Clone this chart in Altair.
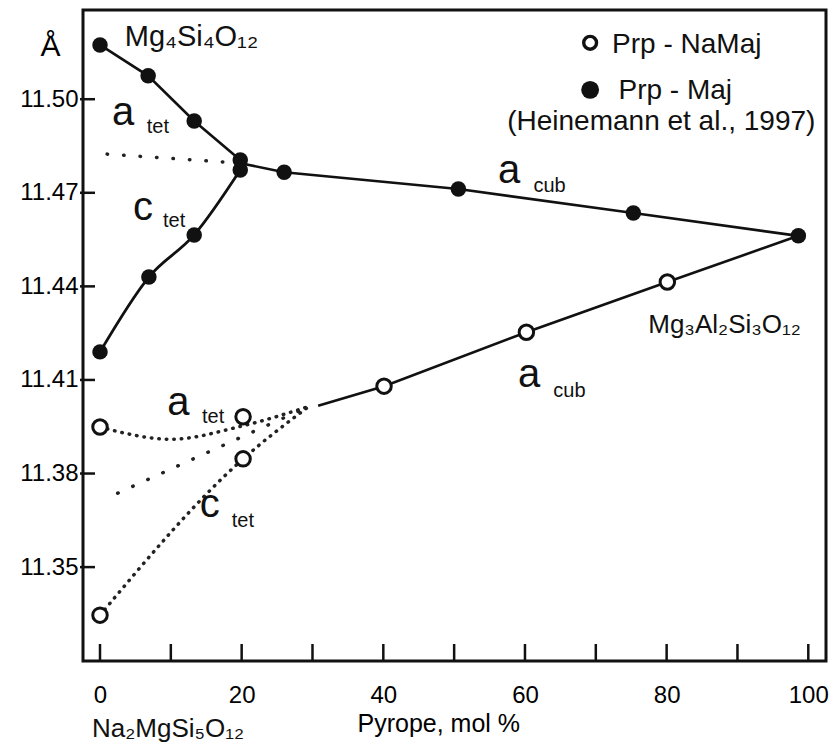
import altair as alt
import pandas as pd

# ---------------- data ----------------
x_tick_values = [0, 10, 20, 30, 40, 50, 60, 70, 80, 90, 100]
y_tick_values = [11.35, 11.38, 11.41, 11.44, 11.47, 11.50]

# Prp - Maj (filled symbols, Heinemann et al., 1997)
maj_x = [0, 6.8, 13.3, 19.8, 19.8, 26.0, 50.6, 75.3, 98.6, 13.3, 6.9, 0]
maj_y = [11.5174, 11.5075, 11.4930, 11.4805, 11.4773, 11.4766, 11.4712,
         11.4635, 11.4562, 11.4565, 11.4430, 11.4190]

# Prp - NaMaj (open symbols)
namaj_x = [0, 20.2, 20.2, 0, 40.1, 60.2, 80.1]
namaj_y = [11.3949, 11.3982, 11.3847, 11.3346, 11.4080, 11.4253, 11.4414]

# solid lines (straight)
atet_up_x = [0, 6.8, 13.3, 19.8]
atet_up_y = [11.5174, 11.5075, 11.4930, 11.4805]
acub_up_x = [19.8, 26.0, 50.6, 75.3, 98.6]
acub_up_y = [11.4795, 11.4766, 11.4712, 11.4635, 11.4562]
acub_low_x = [30.8, 40.1, 60.2, 80.1, 98.6]
acub_low_y = [11.4017, 11.4080, 11.4253, 11.4414, 11.4562]
# solid line (curved)
ctet_up_x = [0, 6.9, 13.3, 19.8]
ctet_up_y = [11.4190, 11.4430, 11.4565, 11.4773]

# dotted lines (sparse)
dot_up_x = [1.0, 19.8]
dot_up_y = [11.4824, 11.4795]
dot_mid_x = [2.5, 29.5]
dot_mid_y = [11.3737, 11.4015]
# dotted lines (dense)
dot_atet_x = [0, 10, 20, 29.5]
dot_atet_y = [11.3949, 11.3910, 11.3952, 11.4015]
dot_ctet_x = [0, 20.2, 29.5]
dot_ctet_y = [11.3346, 11.3847, 11.4015]

# annotations
big_text = ["a", "c", "a", "a", "a", "c"]
big_x = [1.7, 4.66, 56.2, 59.0, 9.5, 14.1]
big_y = [11.4918, 11.4613, 11.4732, 11.4077, 11.3988, 11.3660]
sub_text = ["tet", "tet", "cub", "cub", "tet", "tet"]
sub_x = [6.6, 8.9, 61.2, 64.0, 14.4, 18.6]
sub_y = [11.4892, 11.4591, 11.4702, 11.4046, 11.3962, 11.3628]
formula_text = ["Mg\u2084Si\u2084O\u2081\u2082", "Mg\u2083Al\u2082Si\u2083O\u2081\u2082"]
formula_x = [3.5, 77.4]
formula_y = [11.5171, 11.4250]
formula_size = [29, 26]

legend_open_x = [69.2]
legend_open_y = [11.5181]
legend_fill_x = [69.2]
legend_fill_y = [11.5030]
legend_text = ["Prp - NaMaj", "Prp - Maj"]
legend_text_x = [72.3, 73.2]
legend_text_y = [11.5148, 11.5001]
legend_ref = ["(Heinemann et al., 1997)"]
legend_ref_x = [101.0]
legend_ref_y = [11.4902]

# ---------------- chart ----------------
W, H = 743, 651
FONT = "Liberation Sans"
xs = alt.Scale(domain=[-2.4, 102.5], nice=False, zero=False)
ys = alt.Scale(domain=[11.3199, 11.5286], nice=False, zero=False)

x_axis = alt.Axis(values=x_tick_values, labelExpr="datum.value % 20 == 0 ? datum.label : ''",
                  ticks=False, domain=False, grid=False, labelPadding=22, labelFontSize=24,
                  labelFont=FONT, labelColor="black", labelFlush=False,
                  title="Pyrope, mol %", titleX=274, titleY=70, titleAlign="left",
                  titleBaseline="alphabetic", titleFontSize=25, titleFont=FONT,
                  titleFontWeight="normal", titleColor="black")
y_axis = alt.Axis(values=y_tick_values, format=".2f", ticks=False, domain=False, grid=False,
                  labelPadding=5, labelFontSize=24, labelFont=FONT, labelColor="black",
                  title="Å", titleAngle=0, titleX=-33, titleY=45, titleAlign="center",
                  titleBaseline="alphabetic", titleFontSize=30, titleFont=FONT,
                  titleFontWeight="normal", titleColor="black")


def X(f="x"):
    return alt.X(f"{f}:Q", scale=xs, axis=x_axis)


def Y(f="y"):
    return alt.Y(f"{f}:Q", scale=ys, axis=y_axis)


def seg(name, xv, yv):
    return pd.DataFrame({"seg": name, "x": xv, "y": yv, "o": list(range(len(xv)))})


solid_df = pd.concat([seg("atet_up", atet_up_x, atet_up_y),
                      seg("acub_up", acub_up_x, acub_up_y),
                      seg("acub_low", acub_low_x, acub_low_y)])
curved_df = seg("ctet_up", ctet_up_x, ctet_up_y)
sparse_df = pd.concat([seg("up", dot_up_x, dot_up_y), seg("mid", dot_mid_x, dot_mid_y)])
dense_df = pd.concat([seg("atet", dot_atet_x, dot_atet_y), seg("ctet", dot_ctet_x, dot_ctet_y)])

solid = alt.Chart(solid_df).mark_line(color="#111", strokeWidth=2.6).encode(
    x=X(), y=Y(), detail="seg:N", order="o:Q")
curved = alt.Chart(curved_df).mark_line(color="#111", strokeWidth=2.8, interpolate="monotone").encode(
    x=X(), y=Y(), order="o:Q")
sparse = alt.Chart(sparse_df).mark_line(color="#222", strokeWidth=3.5, strokeDash=[0.5, 16],
                                        strokeCap="round").encode(x=X(), y=Y(), detail="seg:N", order="o:Q")
dense = alt.Chart(dense_df).mark_line(color="#222", strokeWidth=3.5, strokeDash=[0.5, 7],
                                      strokeCap="round", interpolate="monotone").encode(
    x=X(), y=Y(), detail="seg:N", order="o:Q")

maj = alt.Chart(pd.DataFrame({"x": maj_x, "y": maj_y})).mark_point(
    shape="circle", filled=True, color="#111", size=240, opacity=1).encode(x=X(), y=Y())
namaj = alt.Chart(pd.DataFrame({"x": namaj_x, "y": namaj_y})).mark_point(
    shape="circle", filled=False, fill="white", fillOpacity=1, stroke="#111", strokeWidth=3,
    size=210, opacity=1).encode(x=X(), y=Y())

xt = alt.Chart(pd.DataFrame({"v": x_tick_values})).mark_rule(color="#111", strokeWidth=2.5).encode(
    x=X("v"), y=alt.value(H - 17), y2=alt.value(H))
yt = alt.Chart(pd.DataFrame({"v": y_tick_values})).mark_rule(color="#111", strokeWidth=2.5).encode(
    y=Y("v"), x=alt.value(-3), x2=alt.value(12))

big = alt.Chart(pd.DataFrame({"t": big_text, "x": big_x, "y": big_y})).mark_text(
    font=FONT, fontSize=40, align="left", baseline="alphabetic", color="#111").encode(
    x=X(), y=Y(), text="t:N")
sub = alt.Chart(pd.DataFrame({"t": sub_text, "x": sub_x, "y": sub_y})).mark_text(
    font=FONT, fontSize=20, align="left", baseline="alphabetic", color="#111").encode(
    x=X(), y=Y(), text="t:N")
formula = alt.Chart(pd.DataFrame({"t": formula_text, "x": formula_x, "y": formula_y,
                                  "s": formula_size})).mark_text(
    font=FONT, align="left", baseline="alphabetic", color="#111").encode(
    x=X(), y=Y(), text="t:N", size=alt.Size("s:Q", scale=None, legend=None))

leg_open = alt.Chart(pd.DataFrame({"x": legend_open_x, "y": legend_open_y})).mark_point(
    shape="circle", filled=False, fill="white", fillOpacity=1, stroke="#111", strokeWidth=3.4,
    size=165, opacity=1).encode(x=X(), y=Y())
leg_fill = alt.Chart(pd.DataFrame({"x": legend_fill_x, "y": legend_fill_y})).mark_point(
    shape="circle", filled=True, color="#111", size=320, opacity=1).encode(x=X(), y=Y())
leg_text = alt.Chart(pd.DataFrame({"t": legend_text, "x": legend_text_x, "y": legend_text_y})).mark_text(
    font=FONT, fontSize=28, align="left", baseline="alphabetic", color="#111").encode(
    x=X(), y=Y(), text="t:N")
leg_ref = alt.Chart(pd.DataFrame({"t": legend_ref, "x": legend_ref_x, "y": legend_ref_y})).mark_text(
    font=FONT, fontSize=28, align="right", baseline="alphabetic", color="#111").encode(
    x=X(), y=Y(), text="t:N")

na_label = alt.Chart(pd.DataFrame({"t": ["Na\u2082MgSi\u2085O\u2081\u2082"]})).mark_text(
    font=FONT, fontSize=26, align="left", baseline="alphabetic", color="#111").encode(
    x=alt.value(9), y=alt.value(727), text="t:N")

chart = alt.layer(
    xt, yt, solid, curved, sparse, dense, maj, namaj, big, sub, formula,
    leg_open, leg_fill, leg_text, leg_ref, na_label
).properties(
    width=W, height=H,
    autosize=alt.AutoSizeParams(type="none"),
    padding={"left": 83, "top": 10, "right": 7, "bottom": 84},
    background="white",
).configure_view(stroke="#111", strokeWidth=3)

chart.save("out.html", embed_options={"renderer": "svg", "actions": False})
